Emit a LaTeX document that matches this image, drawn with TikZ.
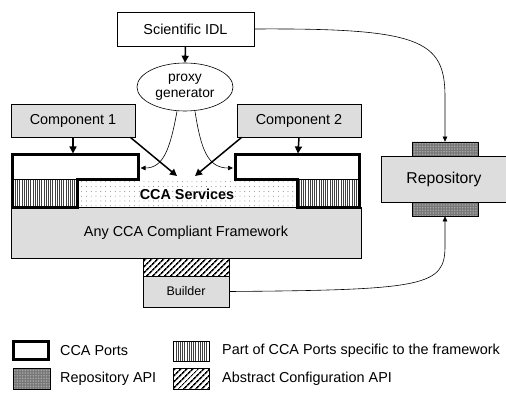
\documentclass[tikz,border=0pt]{standalone}
\usepackage{fontspec}
\setmainfont{Liberation Sans}
\usetikzlibrary{patterns.meta, arrows.meta, shapes.geometric}
\definecolor{boxgray}{HTML}{DDDDDD}
\newcommand{\bodyfont}{\fontsize{14.4}{17}\selectfont}
\tikzset{
  box/.style={draw, fill=boxgray, line width=0.6pt, inner sep=0pt, font=\bodyfont},
  whitebox/.style={draw, fill=white, line width=0.6pt, inner sep=0pt, font=\bodyfont},
  portline/.style={line width=3pt, line join=miter},
  stripes/.style={preaction={fill=white}, pattern={Lines[angle=90, distance=2.2pt, line width=0.7pt]}, pattern color=black!75},
  dotsfill/.style={preaction={fill=white}, pattern={Dots[distance=4.8pt, radius=0.45pt]}, pattern color=black!60},
  repoapi/.style={draw, line width=0.6pt, inner sep=0pt, preaction={fill=black!55}, pattern={Dots[distance=1.6pt, radius=0.45pt]}, pattern color=white!75!black},
  confapi/.style={draw, line width=0.6pt, inner sep=0pt, preaction={fill=white}, pattern={Lines[angle=45, distance=4pt, line width=1.6pt]}, pattern color=black},
  bigarrow/.style={-{Triangle[length=7pt, width=7pt]}, line width=1.5pt},
  thinarrow/.style={-{Triangle[length=5pt, width=4.5pt]}, line width=0.6pt},
  legtext/.style={anchor=west, inner sep=0pt, font=\bodyfont}
}
\begin{document}
\begin{tikzpicture}[x=1pt, y=-1pt]
\useasboundingbox (0,0) rectangle (506,393);

% top
\node[whitebox, minimum width=137pt, minimum height=34pt] (idl) at (185.5,29) {Scientific IDL};
\node[draw, ellipse, fill=white, line width=0.6pt, minimum width=96pt, minimum height=48pt, inner sep=0pt,
      align=center, font=\fontsize{13.8}{16}\selectfont] (pg) at (185,87) {proxy\\generator};
\node[box, minimum width=124pt, minimum height=33pt] (c1) at (73,120.5) {Component 1};
\node[box, minimum width=124pt, minimum height=33pt] (c2) at (299,120.5) {Component 2};

% framework
\node[box, minimum width=350pt, minimum height=51pt] (fw) at (186,232.5) {Any CCA Compliant Framework};
\fill[dotsfill] (77,179) rectangle (297,207);
\node[font=\bfseries\bodyfont, inner sep=0pt] (svc) at (187,194) {CCA Services};

% left port
\fill[white] (12,155) rectangle (138,179);
\fill[stripes] (12,179) rectangle (77,207);
\draw[line width=0.8pt] (12,179) -- (77,179);
\draw[portline] (12,155) -- (138,155) -- (138,179) -- (77,179) -- (77,207) -- (12,207) -- cycle;
% right port
\fill[white] (235,155) rectangle (359,179);
\fill[stripes] (297,179) rectangle (359,207);
\draw[line width=0.8pt] (297,179) -- (359,179);
\draw[portline] (235,155) -- (359,155) -- (359,207) -- (297,207) -- (297,179) -- (235,179) -- cycle;

% builder
\node[confapi, minimum width=86pt, minimum height=18pt] (cfg) at (186,267) {};
\node[box, minimum width=86pt, minimum height=31pt, font=\fontsize{12.5}{15}\selectfont] (bld) at (186,291.5) {Builder};

% repository
\node[box, minimum width=126pt, minimum height=46pt, font=\fontsize{15.7}{18}\selectfont] (repo) at (444,179) {Repository};
\node[repoapi, minimum width=66pt, minimum height=14pt] (tabtop) at (445,149) {};
\node[repoapi, minimum width=66pt, minimum height=14pt] (tabbot) at (445,209) {};

% connector end points
\coordinate (p1top) at (73,153.5);
\coordinate (p2top) at (298,153.5);
\coordinate (svcL) at (177,176);
\coordinate (svcR) at (195,176);
\coordinate (p1side) at (140.5,168);
\coordinate (p2side) at (233,168);

% connectors
\draw[bigarrow] (idl.south) -- (pg.north);
\draw[bigarrow] (c1.south) -- (p1top);
\draw[bigarrow] (c2.south) -- (p2top);
\draw[bigarrow] ([xshift=-5pt]c1.south east) -- (svcL);
\draw[bigarrow] ([xshift=5pt]c2.south west) -- (svcR);
\draw[thinarrow] ([xshift=-8pt]pg.south) .. controls (170,150) and (163,168) .. (p1side);
\draw[thinarrow] ([xshift=10pt]pg.south) .. controls (201,150) and (208,168) .. (p2side);
\draw[thinarrow] (idl.east) .. controls (420,28) and (445,40) .. ([yshift=45pt]tabtop.north) -- (tabtop.north);
\draw[thinarrow] (bld.east) .. controls (425,290) and (445,286) .. ([yshift=-30pt]tabbot.south) -- (tabbot.south);

% legend
\node[draw, line width=3pt, minimum width=35pt, minimum height=18pt, inner sep=0pt] (lg1) at (31,350.5) {};
\node[legtext] (lt1) at (60,351) {CCA Ports};
\node[draw, line width=0.6pt, minimum width=36pt, minimum height=20pt, inner sep=0pt, stripes] (lg2) at (191,351) {};
\node[legtext] (lt2) at (222,351) {Part of CCA Ports specific to the framework};
\node[repoapi, minimum width=37pt, minimum height=21pt] (lg3) at (31.5,378.5) {};
\node[legtext] (lt3) at (60,379) {Repository API};
\node[confapi, minimum width=36pt, minimum height=21pt] (lg4) at (191,378.5) {};
\node[legtext] (lt4) at (222,379) {Abstract Configuration API};
\end{tikzpicture}
\end{document}
